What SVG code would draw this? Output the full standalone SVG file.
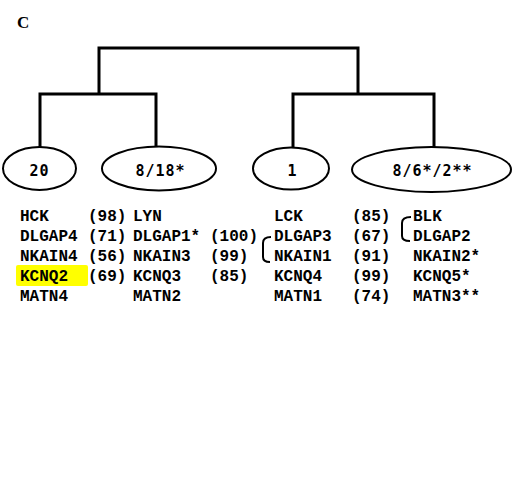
<svg xmlns="http://www.w3.org/2000/svg" width="514" height="478" viewBox="0 0 514 478">
<style>
.bg{fill:#fff}
.tree{fill:none;stroke:#000;stroke-width:3;stroke-linecap:square}
.node ellipse{fill:#fff;stroke:#000;stroke-width:2}
.node text{font-family:"DejaVu Sans Mono",monospace;font-weight:bold;font-size:15px;letter-spacing:1px;text-anchor:middle;fill:#000}
.g{font-family:"Liberation Mono","Courier New",monospace;font-weight:bold;font-size:16px;fill:#000}
.br{fill:none;stroke:#000;stroke-width:2}
.title{font-family:"Liberation Serif","Times New Roman",serif;font-weight:bold;font-size:17px}
</style>
<rect class="bg" x="0" y="0" width="514" height="478"/>
<text class="title" x="17" y="28">C</text>
<g id="connectors">
<path class="tree" d="M99,93 V48 H358 V93"/>
<path class="tree" d="M40,147 V94 H156 V147"/>
<path class="tree" d="M293,148 V94 H434 V148"/>
</g>
<g id="node-20" class="node"><ellipse cx="39.5" cy="168.5" rx="36.5" ry="21.5"/><text x="39.5" y="176">20</text></g>
<g id="node-8-18" class="node"><ellipse cx="159" cy="168.5" rx="57" ry="22"/><text x="160.5" y="176">8/18*</text></g>
<g id="node-1" class="node"><ellipse cx="291" cy="168.5" rx="38" ry="21"/><text x="292.5" y="176">1</text></g>
<g id="node-8-6-2" class="node"><ellipse cx="431.5" cy="169.5" rx="79.5" ry="22.5"/><text x="432.5" y="176">8/6*/2**</text></g>
<g id="genes">
<rect x="16" y="265" width="72" height="21" rx="2" fill="#ffff00"/>
<g class="g">
<text x="20" y="221">HCK</text><text x="20" y="241">DLGAP4</text><text x="20" y="261">NKAIN4</text><text x="20" y="281">KCNQ2</text><text x="20" y="301">MATN4</text>
<text x="88" y="221">(98)</text><text x="88" y="241">(71)</text><text x="88" y="261">(56)</text><text x="88" y="281">(69)</text>
<text x="133" y="221">LYN</text><text x="133" y="241">DLGAP1*</text><text x="133" y="261">NKAIN3</text><text x="133" y="281">KCNQ3</text><text x="133" y="301">MATN2</text>
<text x="210" y="241">(100)</text><text x="210" y="261">(99)</text><text x="210" y="281">(85)</text>
<text x="274" y="221">LCK</text><text x="274" y="241">DLGAP3</text><text x="274" y="261">NKAIN1</text><text x="274" y="281">KCNQ4</text><text x="274" y="301">MATN1</text>
<text x="352" y="221">(85)</text><text x="352" y="241">(67)</text><text x="352" y="261">(91)</text><text x="352" y="281">(99)</text><text x="352" y="301">(74)</text>
<text x="413" y="221">BLK</text><text x="413" y="241">DLGAP2</text><text x="413" y="261">NKAIN2*</text><text x="413" y="281">KCNQ5*</text><text x="413" y="301">MATN3**</text>
</g>
<path class="br" d="M271,237 Q263,237 263,243 V257 Q263,262 270,262"/>
<path class="br" d="M411,217 Q402,217 402,223 V236 Q402,241 410,241"/>
</g>
</svg>
